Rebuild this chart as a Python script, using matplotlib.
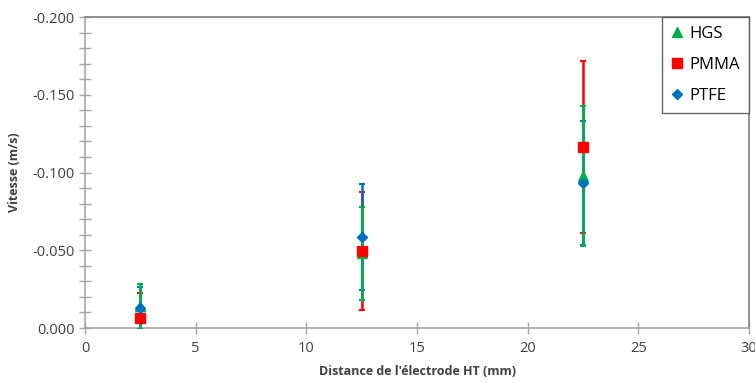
import matplotlib
matplotlib.use("Agg")
import matplotlib.pyplot as plt
from matplotlib.ticker import MultipleLocator, FuncFormatter

# distance (mm) and speed (m/s)
distance = [2.5, 12.5, 22.5]
hgs = [-0.014, -0.048, -0.0975]
hgs_err = [0.0145, 0.030, 0.045]
pmma = [-0.0066, -0.0495, -0.1164]
pmma_err = [0.016, 0.038, 0.0555]
ptfe = [-0.013, -0.0587, -0.0934]
ptfe_err = [0.0136, 0.034, 0.040]

green = "#00B050"
red = "#FF0000"
blue = "#0070C0"

plt.rcParams['font.family'] = ['Open Sans', 'DejaVu Sans']

fig = plt.figure(figsize=(7.55, 3.83), dpi=100)
ax = fig.add_axes([0.1126, 0.1436, 0.8795, 0.812])

# error bars first (green drawn over the others), markers on top
ax.errorbar(distance, pmma, yerr=pmma_err, fmt="none", ecolor=red,
            elinewidth=1.8, capsize=2.5, capthick=1.5, zorder=2)
ax.errorbar(distance, ptfe, yerr=ptfe_err, fmt="none", ecolor=blue,
            elinewidth=1.8, capsize=2.5, capthick=1.5, zorder=2)
ax.errorbar(distance, hgs, yerr=hgs_err, fmt="none", ecolor=green,
            elinewidth=2, capsize=2.5, capthick=1.5, zorder=3)
ax.plot(distance, hgs, "^", color=green, ms=7, ls="none", label="HGS", zorder=4)
ax.plot(distance, pmma, "s", color=red, ms=7.5, ls="none", label="PMMA", zorder=5)
ax.plot(distance, ptfe, "D", color=blue, ms=5.5, ls="none", label="PTFE", zorder=6)

ax.set_xlim(0, 30)
ax.set_ylim(0, -0.2)
ax.xaxis.set_major_locator(MultipleLocator(5))
ax.yaxis.set_major_locator(MultipleLocator(0.05))
ax.yaxis.set_minor_locator(MultipleLocator(0.01))
ax.yaxis.set_major_formatter(FuncFormatter(lambda v, p: "%.3f" % v if abs(v) > 1e-9 else "0.000"))

for s in ["left", "bottom"]:
    ax.spines[s].set_color("#a6a6a6")
    ax.spines[s].set_linewidth(1.2)
for s in ["top", "right"]:
    ax.spines[s].set_color("#7f7f7f")
    ax.spines[s].set_linewidth(1.2)
ax.tick_params(axis="both", which="both", direction="inout", color="#a6a6a6",
               labelcolor="#404040", labelsize=10.5)
ax.tick_params(axis="both", which="major", length=8, width=1)
ax.tick_params(axis="y", which="minor", length=8, width=1)
ax.tick_params(axis="x", pad=5)

ax.set_xlabel("Distance de l'électrode HT (mm)", fontsize=9, fontweight="bold",
              color="#404040", labelpad=7)
ax.set_ylabel("Vitesse (m/s)", fontsize=9, fontweight="bold", color="#404040",
              labelpad=8)

leg = ax.legend(loc="upper right", fontsize=12, frameon=True, fancybox=False,
                borderaxespad=0, handlelength=0.7, handletextpad=0.4,
                labelspacing=0.9, borderpad=0.55)
leg.get_frame().set_edgecolor("#404040")
leg.get_frame().set_linewidth(1)

fig.savefig("out.png", dpi=100)
